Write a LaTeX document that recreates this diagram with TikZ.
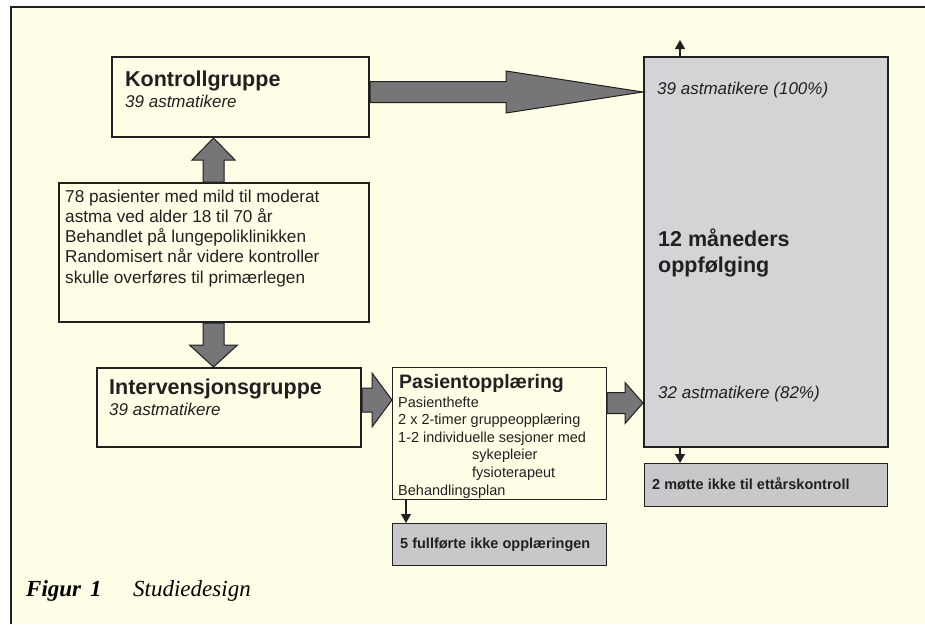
\documentclass[tikz,border=0pt]{standalone}
\usepackage{fontspec}
\setmainfont{Liberation Sans}
\newfontfamily\capfont{Liberation Serif}
\usepackage{tikz}
\usetikzlibrary{calc,arrows.meta}
\definecolor{paper}{RGB}{255,255,232}
\definecolor{ink}{RGB}{35,31,32}
\definecolor{panel}{RGB}{212,212,214}
\definecolor{dropout}{RGB}{200,200,202}
\definecolor{arrowgrey}{RGB}{118,118,120}
\newcommand\BlockArrow[5]{% start, tip, shaft half width, head half width, head length
  \coordinate (ba-b) at ($(#2)!#5pt!(#1)$); % base of the head
  \draw[blockarrow]
    ($(#1)!#3pt!90:(#2)$) -- ($(ba-b)!#3pt!-90:(#1)$) -- ($(ba-b)!#4pt!-90:(#1)$)
    -- (#2) -- ($(ba-b)!#4pt!90:(#1)$) -- ($(ba-b)!#3pt!90:(#1)$)
    -- ($(#1)!#3pt!-90:(#2)$) -- cycle;
}
\tikzset{%
  box/.style={draw=ink,line width=2pt,fill=paper,anchor=north west,inner sep=0pt},%
  thinbox/.style={box,line width=1pt},%
  blockarrow/.style={draw=ink,line width=1pt,fill=arrowgrey,line join=miter},%
  droparrow/.style={draw=ink,line width=1.2pt,-{Triangle[width=10pt,length=9pt]}},%
  label/.style={inner sep=0pt,anchor=base west,text=ink},%
  title/.style={label,font=\fontsize{21.5}{26}\selectfont\bfseries},%
  sub/.style={label,font=\fontsize{17}{20}\selectfont\itshape},%
  body/.style={label,font=\fontsize{17.2}{20.3}\selectfont},%
  small/.style={label,font=\fontsize{14.5}{17.6}\selectfont},%
  droptext/.style={label,font=\fontsize{14.5}{17}\selectfont\bfseries},%
  caption/.style={label,text=black}%
}
\begin{document}
\begin{tikzpicture}[x=1pt,y=-1pt]
%% frame
\useasboundingbox (0,0) rectangle (925,624);
\fill[white] (0,0) rectangle (925,624);
\fill[paper] (11,7) rectangle (925,624);
\draw[ink,line width=2.5pt] (11,624) -- (11,7) -- (925,7);

%% boxes
\node[box,minimum width=257,minimum height=80] (kontroll) at (111,56) {};
\node[box,minimum width=310,minimum height=139] (pasienter) at (58,182) {};
\node[box,minimum width=264,minimum height=79] (intervensjon) at (96,367) {};
\node[thinbox,minimum width=214,minimum height=132] (opplaering) at (392,367) {};
\node[box,fill=panel,minimum width=244,minimum height=390] (oppfolging) at (643,56) {};
\node[thinbox,fill=dropout,minimum width=214,minimum height=42] (ikkefullf) at (392,523) {};
\node[thinbox,fill=dropout,minimum width=243,minimum height=43] (ikkemott) at (644,463) {};

%% texts (multi-line ones sit on the baseline of their last line)
\node[title] (kontroll-t) at (125,86) {Kontrollgruppe};
\node[sub] (kontroll-n) at (125,107) {39 astmatikere};
\node[body,align=left] (pasienter-t) at (65,283.2) {78 pasienter med mild til moderat\\
  astma ved alder 18 til 70 år\\Behandlet på lungepoliklinikken\\
  Randomisert når videre kontroller\\skulle overføres til primærlegen};
\node[title] (intervensjon-t) at (109,394) {Intervensjonsgruppe};
\node[sub] (intervensjon-n) at (109,415) {39 astmatikere};
\node[title,font=\fontsize{19.5}{22}\selectfont\bfseries] (opplaering-t) at (399,388) {Pasientopplæring};
\node[small,align=left] (opplaering-l) at (398,495) {Pasienthefte\\
  2 x 2-timer gruppeopplæring\\1-2 individuelle sesjoner med\\
  \hspace*{74pt}sykepleier\\\hspace*{74pt}fysioterapeut\\Behandlingsplan};
\node[sub] (oppfolging-a) at (657,94) {39 astmatikere (100\%)};
\node[title,align=left] (oppfolging-t) at (658,272) {12 måneders\\oppfølging};
\node[sub] (oppfolging-b) at (658,398) {32 astmatikere (82\%)};
\node[droptext] (ikkefullf-t) at (400,548) {5 fullførte ikke opplæringen};
\node[droptext] (ikkemott-t) at (652,489) {2 møtte ikke til ettårskontroll};

%% block arrows
\coordinate (k-tip) at ([yshift=-36]oppfolging.north west);
\coordinate (k-start) at (kontroll.east |- k-tip);
\BlockArrow{k-start}{k-tip}{10.5}{21}{137}
\coordinate (u-tip) at ([xshift=102.5]kontroll.south west);
\coordinate (u-start) at (pasienter.north -| u-tip);
\BlockArrow{u-start}{u-tip}{10.5}{21.5}{22}
\coordinate (d-start) at (pasienter.south -| u-tip);
\coordinate (d-tip) at (intervensjon.north -| u-tip);
\BlockArrow{d-start}{d-tip}{10.5}{24}{22}
\coordinate (i-tip) at ([yshift=-33]opplaering.north west);
\coordinate (i-start) at (intervensjon.east |- i-tip);
\BlockArrow{i-start}{i-tip}{12}{27}{20}
\coordinate (o-start) at ([yshift=-36]opplaering.north east);
\coordinate (o-tip) at (oppfolging.west |- o-start);
\BlockArrow{o-start}{o-tip}{10.5}{20.5}{18}

%% drop-outs
\coordinate (tapt) at ([xshift=37,yshift=16]oppfolging.north west);
\draw[droparrow] (oppfolging.north -| tapt) -- (tapt);
\draw[droparrow] (oppfolging.south -| tapt) -- (ikkemott.north -| tapt);
\draw[droparrow] ([xshift=14]opplaering.south west) -- ([xshift=14]ikkefullf.north west);

%% caption
\node[caption,font=\capfont\fontsize{23}{26}\selectfont\bfseries\itshape] (figur) at (26,596) {Figur\hspace{9pt}1};
\node[caption,font=\capfont\fontsize{23}{26}\selectfont\itshape] (figurtekst) at (133,596) {Studiedesign};
\end{tikzpicture}
\end{document}
